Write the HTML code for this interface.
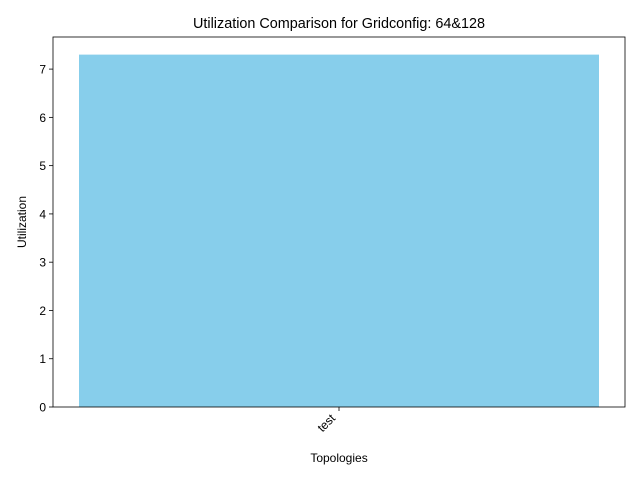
<!DOCTYPE html>
<html><head><meta charset="utf-8"><style>
body{margin:0;background:#fff;}
svg{display:block;font-family:"Liberation Sans","DejaVu Sans",sans-serif;}
</style></head><body>
<svg id="chart" width="640" height="480">
<text x="339" y="28" text-anchor="middle" font-size="14.4">Utilization Comparison for Gridconfig: 64&amp;128</text>
<g id="plot"></g>
<text x="339" y="462" text-anchor="middle" font-size="12">Topologies</text>
<text transform="translate(26,222) rotate(-90)" text-anchor="middle" font-size="12">Utilization</text>
</svg>
<script>
const categories = ["test"];
const values = [7.3];
const yTicks = [0,1,2,3,4,5,6,7];
const L=53,R=625,T=37,B=407;
const ymax=Math.max(...values)*1.05;
const n=categories.length;
const span=(n-1)+0.8;
const xmin=-0.4-span*0.05, xmax=n-1+0.4+span*0.05;
const xs=v=>L+(v-xmin)/(xmax-xmin)*(R-L);
const ys=v=>B-v/ymax*(B-T);
const ns="http://www.w3.org/2000/svg";
const g=document.getElementById('plot');
function mk(t,a){const e=document.createElementNS(ns,t);for(const k in a)e.setAttribute(k,a[k]);g.appendChild(e);return e;}
categories.forEach((c,i)=>{
  const r=mk('rect',{x:xs(i-0.4),y:ys(values[i]),width:xs(i+0.4)-xs(i-0.4),height:B-ys(values[i]),fill:'#87ceeb'});
  
  
  const tk=mk('line',{x1:xs(i),x2:xs(i),y1:B,y2:B+4,stroke:'#000','stroke-width':0.8});
  
  
  const tx=mk('text',{transform:`translate(${xs(i)-3},${B+12}) rotate(-45)`,'text-anchor':'end','font-size':12});
  tx.textContent=c;
  
  
});
yTicks.forEach(v=>{
  const tk=mk('line',{x1:L-4,x2:L,y1:ys(v),y2:ys(v),stroke:'#000','stroke-width':0.8});
  
  
  const tx=mk('text',{x:L-7,y:ys(v)+4.5,'text-anchor':'end','font-size':12});
  tx.textContent=v;
  
  
});
const f=mk('rect',{x:L,y:T,width:R-L,height:B-T,fill:'none',stroke:'#000','stroke-width':0.8});


</script>
</body></html>
